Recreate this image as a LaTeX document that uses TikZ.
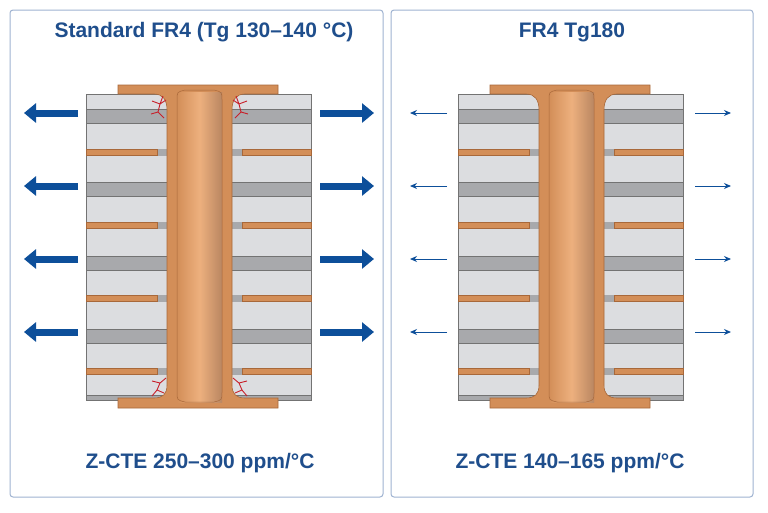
\documentclass[tikz,border=0pt]{standalone}
\usepackage{fontspec}
\setmainfont{Liberation Sans}
\usetikzlibrary{arrows.meta}
\definecolor{blu}{HTML}{1F4E8C}
\definecolor{arw}{HTML}{0D4F9A}
\definecolor{frm}{HTML}{9FB3D1}
\definecolor{lite}{HTML}{DCDDE0}
\definecolor{prep}{HTML}{A8A9AC}
\definecolor{cu}{HTML}{D38E58}
\definecolor{cul}{HTML}{EDB07E}
\definecolor{cud}{HTML}{A8683A}
\definecolor{crk}{HTML}{C8202A}
\tikzset{
 panel/.style={draw=frm,line width=1pt,rounded corners=3pt,fill=white},
 ttl/.style={font=\bfseries\fontsize{21}{24}\selectfont,text=blu},
 layer/.style={fill=prep,draw=black!55,line width=0.4pt},
 plane/.style={fill=cu,draw=cud,line width=0.5pt},
 fat/.style={arw,line width=7pt,-{Triangle[length=12pt,width=19pt]}},
 thin/.style={arw,line width=1pt,-{Stealth[length=7pt,width=6pt]}},
 crack/.style={crk,line width=0.9pt},
}
\newcommand{\viaboard}{%
 \fill[lite,draw=black!55,line width=0.5pt] (86,94) rectangle (311,400);
 \foreach \y in {109,182,256,329}{\draw[layer] (86,\y) rectangle (311,\y+14);}
 \draw[layer] (86,395) rectangle (311,400);
 \foreach \y in {149,222,295,368}{
  \fill[prep] (157,\y) rectangle (242,\y+6.5);
  \draw[plane] (86,\y) rectangle (157,\y+6.5);
  \draw[plane] (242,\y) rectangle (311,\y+6.5);}
 \draw[fill=cu,draw=cud,line width=0.6pt] (118,85) -- (278,85) -- (278,94) -- (245,94)
   .. controls (236,94) and (232,100) .. (232,110) -- (232,385)
   .. controls (232,394) and (236,398) .. (245,398) -- (278,398) -- (278,408) -- (118,408)
   -- (118,398) -- (154,398) .. controls (163,398) and (167,394) .. (167,385) -- (167,110)
   .. controls (167,100) and (163,94) .. (154,94) -- (118,94) -- cycle;
 \shade[left color=cu,right color=cud!80,middle color=cul] (177,92) rectangle (222,402);
 \draw[cud,line width=0.5pt] (177,100) -- (177,392) (222,100) -- (222,392)
   (177,100) .. controls (177,92) .. (185,90) -- (214,90) .. controls (222,92) .. (222,100)
   (177,392) .. controls (177,400) .. (185,402) -- (214,402) .. controls (222,400) .. (222,392);
}
\begin{document}
\begin{tikzpicture}[x=1pt,y=-1pt]
\useasboundingbox (0,0) rectangle (768,512);
\fill[white] (0,0) rectangle (768,512);
\draw[panel] (10,10) rectangle (383,497);
\draw[panel] (391,10) rectangle (753,497);
\node[ttl] (t1) at (204,32) {Standard FR4 (Tg 130–140 °C)};
\node[ttl] (t2) at (572,32) {FR4 Tg180};
\node[ttl] (b1) at (200,463) {Z-CTE 250–300 ppm/°C};
\node[ttl] (b2) at (570,463) {Z-CTE 140–165 ppm/°C};
\viaboard
\begin{scope}[xshift=372]\viaboard\end{scope}
% cracks
\draw[crack] (166,100) -- (160,104) -- (152,101) (160,104) -- (158,112) -- (151,114) (158,112) -- (164,118) (163,96)--(160,104);
\draw[crack] (233,100) -- (239,104) -- (247,101) (239,104) -- (241,112) -- (248,114) (241,112) -- (235,118) (236,96)--(239,104);
\draw[crack] (166,378) -- (160,383) -- (152,381) (160,383) -- (157,390) -- (152,396) (157,390) -- (164,393);
\draw[crack] (233,378) -- (239,383) -- (247,381) (239,383) -- (242,390) -- (247,396) (242,390) -- (235,393);
\foreach \y in {113,186,259,332}{
 \coordinate (la\y) at (78,\y); \coordinate (lb\y) at (24,\y);
 \coordinate (ra\y) at (320,\y); \coordinate (rb\y) at (374,\y);
 \draw[fat] (la\y) -- (lb\y); \draw[fat] (ra\y) -- (rb\y);
 \coordinate (sla\y) at (447,\y); \coordinate (slb\y) at (410,\y);
 \coordinate (sra\y) at (695,\y); \coordinate (srb\y) at (731,\y);
 \draw[thin] (sla\y) -- (slb\y); \draw[thin] (sra\y) -- (srb\y);}
\end{tikzpicture}
\end{document}
